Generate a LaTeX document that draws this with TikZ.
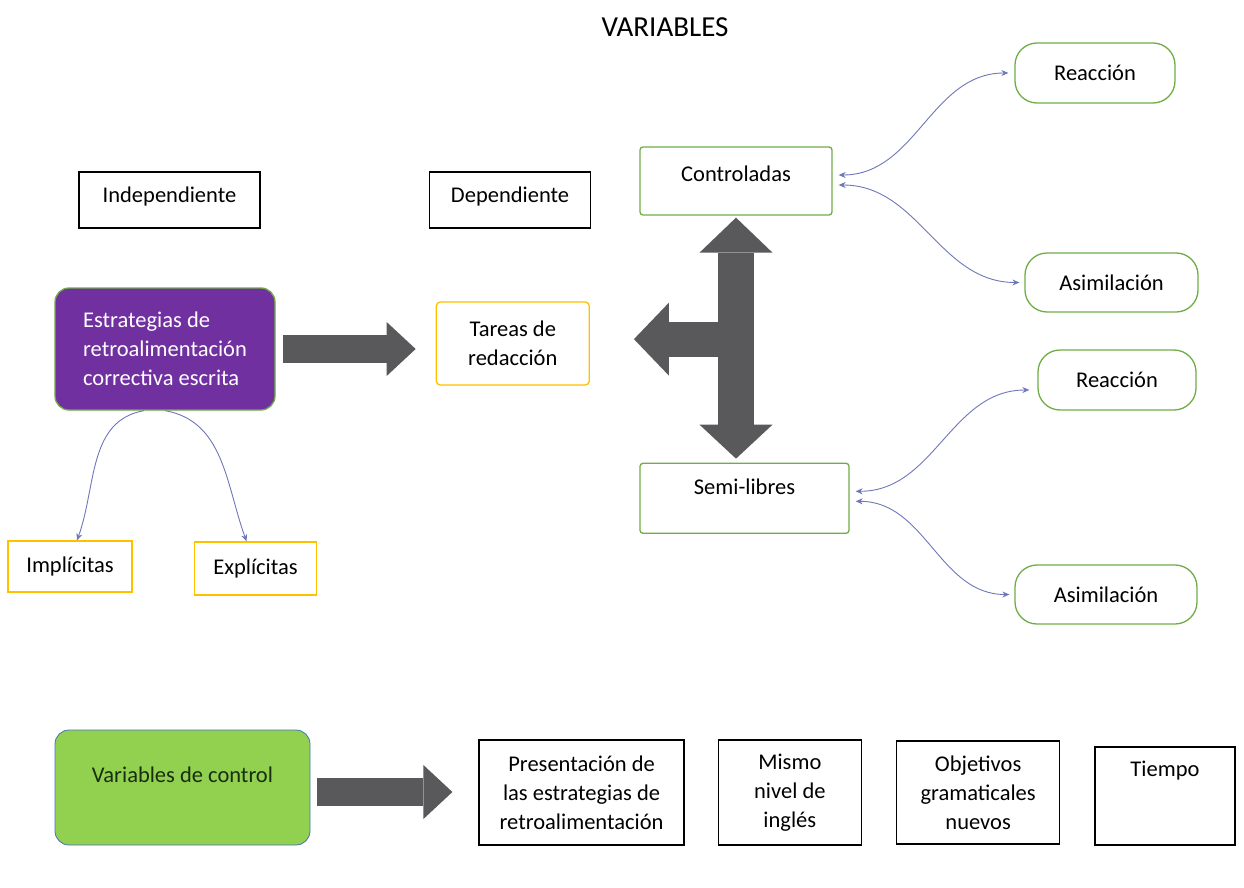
\documentclass[tikz,border=0pt]{standalone}
\usepackage{fontspec}
\setmainfont{Carlito}
\usepackage{tikz}
\usetikzlibrary{arrows.meta,positioning,calc}
\definecolor{morado}{RGB}{112,48,160}
\definecolor{verde}{RGB}{146,208,80}
\definecolor{borde}{RGB}{112,173,71}
\definecolor{ambar}{RGB}{255,192,0}
\definecolor{azul}{RGB}{68,114,196}
\definecolor{flecha}{RGB}{89,89,92}
\definecolor{enlace}{RGB}{110,120,185}

\begin{document}
\begin{tikzpicture}[x=1pt,y=-1pt,>={Stealth[length=7pt,width=6pt]},
 font=\fontsize{22.5}{29}\selectfont,
 box/.style={draw,line width=1.3pt,align=center,inner sep=0pt},
 ybox/.style={box,draw=ambar},
 gbox/.style={box,draw=borde,rounded corners=3pt},
 pill/.style={box,draw=borde,rounded corners=22pt,minimum height=60pt},
 link/.style={draw=enlace,line width=0.9pt},
 bigarrow/.style={flecha,line width=28pt,-{Triangle[length=29pt,width=54pt,line width=0pt]}}]
\path[use as bounding box,fill=white] (0,0) rectangle (1244,888);
\node[font=\fontsize{29}{35}\selectfont] (titulo) at (665,27) {VARIABLES};
\node[box,minimum width=181pt,minimum height=56pt,text depth=10pt] (indep) at (169.5,200) {Independiente};
\node[box,minimum width=161.5pt,minimum height=56pt,text depth=10pt,right=168pt of indep] (dep) {Dependiente};
\node[box,draw=borde,fill=morado,text=white,rounded corners=14pt,align=left,minimum width=220pt,minimum height=122pt] (estr) at (165,349) {Estrategias de\\retroalimentación\\correctiva escrita};
\node[ybox,rounded corners=4pt,minimum width=153pt,minimum height=83pt,right=160pt of estr,yshift=5.5pt] (tareas) {Tareas de\\redacción};
\node[ybox,minimum width=124pt,minimum height=51pt] (impl) at (70,566.5) {Implícitas};
\node[ybox,minimum width=122.5pt,minimum height=53pt,right=61pt of impl,yshift=-2pt] (expl) {Explícitas};
\node[gbox,minimum width=192pt,minimum height=68pt,text depth=14pt] (contr) at (736,181) {Controladas};
\node[gbox,minimum width=209pt,minimum height=70pt,text depth=24pt,below right=247pt and 0pt of contr.south west] (semi) {Semi-libres};
\node[pill,minimum width=160pt] (reac1) at (1095,73) {Reacción};
\node[pill,minimum width=173pt,minimum height=59pt] (asim1) at (1111.5,282.5) {Asimilación};
\node[pill,minimum width=158pt] (reac2) at (1117,380) {Reacción};
\node[pill,minimum width=182pt,minimum height=59pt] (asim2) at (1106,594.5) {Asimilación};
\node[box,draw=azul,line width=0.8pt,fill=verde,text={rgb,255:red,25;green,45;blue,15},rounded corners=14pt,minimum width=255pt,minimum height=115pt,text depth=25pt] (ctrl) at (182.5,787.5) {Variables de control};
\node[box,minimum width=205pt,minimum height=105pt,right=168pt of ctrl,yshift=-5pt] (pres) {Presentación de\\las estrategias de\\retroalimentación};
\node[box,minimum width=143pt,minimum height=105pt,right=33pt of pres] (mismo) {Mismo\\nivel de\\inglés};
\node[box,minimum width=163pt,minimum height=103pt,right=34pt of mismo] (obj) {Objetivos\\gramaticales\\nuevos};
\node[box,minimum width=140pt,minimum height=98pt,text depth=55pt,right=34pt of obj,yshift=-3.5pt] (tiempo) {Tiempo};
\coordinate (hub) at ($(contr.south)!0.5!(contr.south |- semi.north)$);
\draw[bigarrow] ([xshift=7pt]estr.east) -- ([xshift=-20pt]estr.east -| tareas.west);
\draw[bigarrow] ([xshift=7pt,yshift=-4.5pt]ctrl.east) -- ([xshift=-26pt,yshift=-4.5pt]ctrl.east -| pres.west);
\draw[flecha,line width=35pt,-{Triangle[length=35pt,width=73pt,line width=0pt]}] (hub) -- ([xshift=44pt]hub -| tareas.east);
\draw[flecha,line width=36pt,{Triangle[length=35pt,width=73pt,line width=0pt]}-{Triangle[length=34pt,width=73pt,line width=0pt]}] ([yshift=-2pt]contr.south) -- ([yshift=4pt]contr.south |- semi.north);
\draw[link,->] ([xshift=-21pt]estr.south) to[out=190,in=70] ([xshift=7pt]impl.north);
\draw[link,->] (estr.south) to[out=-10,in=110] ([xshift=-9pt]expl.north);
\draw[link,<->] ([xshift=-6pt]reac1.west) to[out=180,in=0] ([xshift=6pt,yshift=6pt]contr.east);
\draw[link,<->] ([xshift=6pt,yshift=-4pt]contr.east) to[out=0,in=180] ([xshift=-5pt]asim1.west);
\draw[link,<->] ([xshift=-8pt,yshift=-10pt]reac2.west) to[out=180,in=0] ([xshift=6pt,yshift=7pt]semi.east);
\draw[link,<->] ([xshift=6pt,yshift=-3pt]semi.east) to[out=0,in=180] ([xshift=-5pt]asim2.west);
\end{tikzpicture}
\end{document}
